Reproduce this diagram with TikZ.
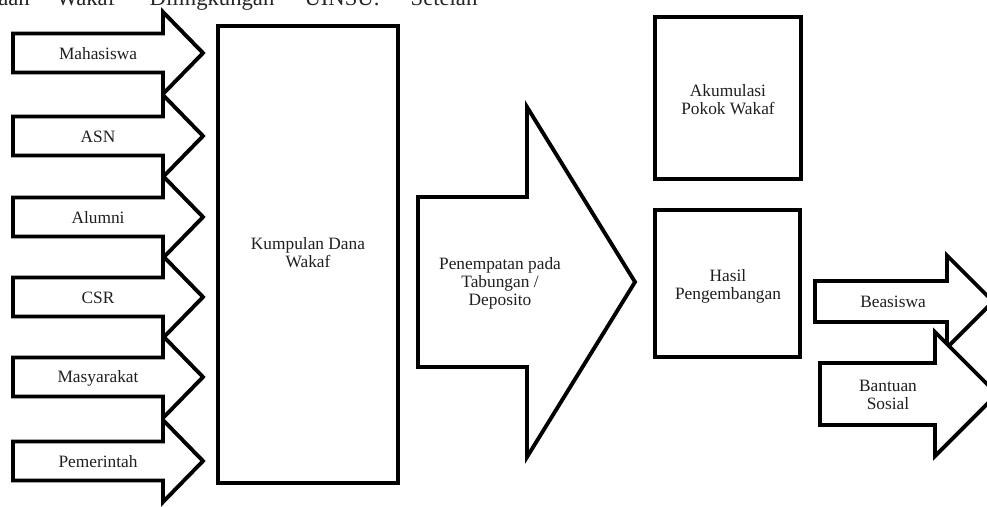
\documentclass[tikz,border=0pt]{standalone}
\usepackage{fontspec}
\setmainfont{Liberation Serif}
\begin{document}
\begin{tikzpicture}[x=0.75pt,y=-0.75pt,
  shapeline/.style={draw=black,line width=2.9pt,fill=white,line join=miter},
  lbl/.style={text=black!88,font=\fontsize{13}{13.5}\selectfont,align=center,inner sep=0pt},
  toptext/.style={text=black!85,font=\fontsize{17}{20}\selectfont,anchor=base,inner sep=0pt}]
\newcommand\blockarrow[6]{%
  \draw[shapeline] ({#1},{#4-#5}) -- ({#2},{#4-#5}) -- ({#2},{#4-#6}) -- ({#3},{#4})
    -- ({#2},{#4+#6}) -- ({#2},{#4+#5}) -- ({#1},{#4+#5}) -- cycle;}
\useasboundingbox (0,0) rectangle (987,506);
\clip (0,0) rectangle (987,506);
\fill[white] (0,0) rectangle (987,506);
% cut-off line of running text at the top
\node[toptext] (t1) at (14,6) {aan};
\node[toptext] (t2) at (86,6) {Wakaf};
\node[toptext] (t3) at (212,6) {Dilingkungan};
\node[toptext] (t4) at (342,6) {UINSU.};
\node[toptext] (t5) at (444,6) {Setelah};
% source arrows
\foreach \cy in {53,136,217,297,377,461}{\blockarrow{13}{163}{203}{\cy}{19.5}{41}}
\node[lbl] (mhs) at (98,54) {Mahasiswa};
\node[lbl] (asn) at (98,137) {ASN};
\node[lbl] (alm) at (98,218) {Alumni};
\node[lbl] (csr) at (98,298) {CSR};
\node[lbl] (msy) at (98,378) {Masyarakat};
\node[lbl] (pmr) at (98,462) {Pemerintah};
% collected fund
\draw[shapeline] (218,26) rectangle (398,483);
\node[lbl] (kdw) at (308,253) {Kumpulan Dana\\Wakaf};
% placement arrow
\blockarrow{418}{527}{635}{282}{85}{175}
\node[lbl] (pen) at (500,283) {Penempatan pada\\Tabungan /\\Deposito};
% right boxes
\draw[shapeline] (655,17) rectangle (801,179);
\node[lbl] (apw) at (728,100) {Akumulasi\\Pokok Wakaf};
\draw[shapeline] (655,210) rectangle (800,357);
\node[lbl] (hsl) at (728,286) {Hasil\\Pengembangan};
% output arrows
\blockarrow{815}{947}{993}{301.5}{20.5}{46}
\node[lbl] (bsw) at (893,302) {Beasiswa};
\blockarrow{820}{935}{997}{394}{31}{62}
\node[lbl] (bns) at (888,395) {Bantuan\\Sosial};
\end{tikzpicture}
\end{document}
